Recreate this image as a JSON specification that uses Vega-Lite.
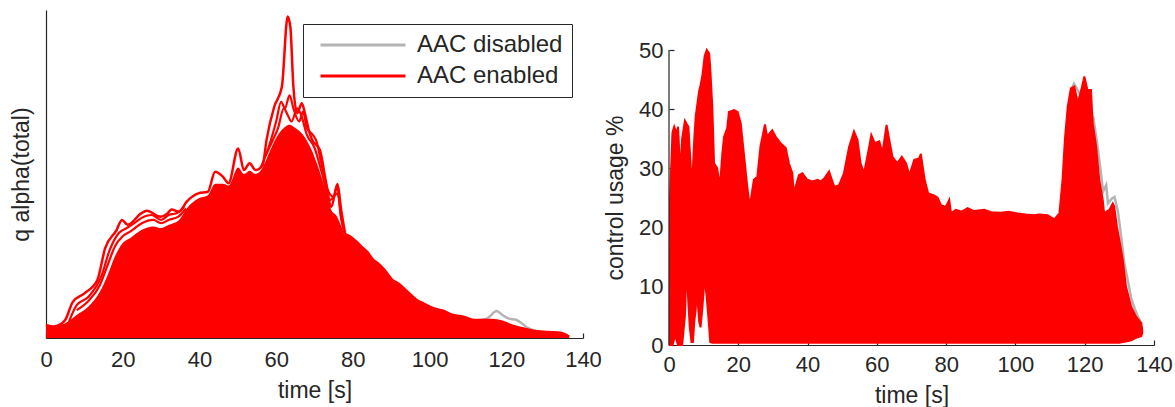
{
  "$schema": "https://vega.github.io/schema/vega-lite/v6.json",
  "padding": {"left": 10, "top": 10, "right": 0, "bottom": 0},
  "background": "white",
  "config": {
    "font": "Liberation Sans",
    "view": {"stroke": null},
    "axis": {"grid": false, "domainColor": "#262626", "domainWidth": 1.2, "tickColor": "#262626", "tickWidth": 1.2, "labelColor": "#262626", "titleColor": "#262626", "labelFontSize": 22, "titleFontSize": 23, "titleFontWeight": "normal", "labelFont": "Liberation Sans", "titleFont": "Liberation Sans"}
  },
  "datasets": {
    "leftEnabled": [
      {"t": 0, "v": 0.04, "run": "AAC enabled"}, {"t": 2, "v": 0.035, "run": "AAC enabled"}, {"t": 3.5, "v": 0.04, "run": "AAC enabled"}, {"t": 5, "v": 0.055, "run": "AAC enabled"}, {"t": 7, "v": 0.11, "run": "AAC enabled"}, {"t": 10, "v": 0.136, "run": "AAC enabled"}, {"t": 13.4, "v": 0.177, "run": "AAC enabled"}, {"t": 15.4, "v": 0.273, "run": "AAC enabled"}, {"t": 18.4, "v": 0.329, "run": "AAC enabled"}, {"t": 19.8, "v": 0.36, "run": "AAC enabled"}, {"t": 21.3, "v": 0.345, "run": "AAC enabled"}, {"t": 24.8, "v": 0.38, "run": "AAC enabled"}, {"t": 26.3, "v": 0.388, "run": "AAC enabled"}, {"t": 29.8, "v": 0.37, "run": "AAC enabled"}, {"t": 31.7, "v": 0.38, "run": "AAC enabled"}, {"t": 32.7, "v": 0.392, "run": "AAC enabled"}, {"t": 34.7, "v": 0.385, "run": "AAC enabled"}, {"t": 36.7, "v": 0.416, "run": "AAC enabled"}, {"t": 39.7, "v": 0.441, "run": "AAC enabled"}, {"t": 42.2, "v": 0.446, "run": "AAC enabled"}, {"t": 44.1, "v": 0.507, "run": "AAC enabled"}, {"t": 46.1, "v": 0.492, "run": "AAC enabled"}, {"t": 47.6, "v": 0.472, "run": "AAC enabled"}, {"t": 50.1, "v": 0.578, "run": "AAC enabled"}, {"t": 51.6, "v": 0.512, "run": "AAC enabled"}, {"t": 53.1, "v": 0.533, "run": "AAC enabled"}, {"t": 54.6, "v": 0.512, "run": "AAC enabled"}, {"t": 56.5, "v": 0.527, "run": "AAC enabled"}, {"t": 57.5, "v": 0.604, "run": "AAC enabled"}, {"t": 59.5, "v": 0.705, "run": "AAC enabled"}, {"t": 61.5, "v": 0.766, "run": "AAC enabled"}, {"t": 63, "v": 0.98, "run": "AAC enabled"}, {"t": 63.7, "v": 0.949, "run": "AAC enabled"}, {"t": 64.5, "v": 0.766, "run": "AAC enabled"}, {"t": 65.5, "v": 0.685, "run": "AAC enabled"}, {"t": 66.7, "v": 0.716, "run": "AAC enabled"}, {"t": 67.5, "v": 0.685, "run": "AAC enabled"}, {"t": 68.5, "v": 0.634, "run": "AAC enabled"}, {"t": 69.4, "v": 0.604, "run": "AAC enabled"}, {"t": 71.4, "v": 0.573, "run": "AAC enabled"}, {"t": 72.9, "v": 0.482, "run": "AAC enabled"}, {"t": 74.4, "v": 0.4, "run": "AAC enabled"}, {"t": 75.9, "v": 0.466, "run": "AAC enabled"}, {"t": 76.9, "v": 0.37, "run": "AAC enabled"}, {"t": 77.9, "v": 0.319, "run": "AAC enabled"}, {"t": 79.2, "v": 0.31, "run": "AAC enabled"}, {"t": 80.4, "v": 0.299, "run": "AAC enabled"}, {"t": 81.3, "v": 0.29, "run": "AAC enabled"}, {"t": 82.3, "v": 0.278, "run": "AAC enabled"}, {"t": 83.8, "v": 0.262, "run": "AAC enabled"}, {"t": 85.3, "v": 0.238, "run": "AAC enabled"}, {"t": 86.5, "v": 0.228, "run": "AAC enabled"}, {"t": 88.3, "v": 0.207, "run": "AAC enabled"}, {"t": 90.3, "v": 0.177, "run": "AAC enabled"}, {"t": 92, "v": 0.165, "run": "AAC enabled"}, {"t": 93.8, "v": 0.146, "run": "AAC enabled"}, {"t": 96.7, "v": 0.116, "run": "AAC enabled"}, {"t": 98.5, "v": 0.105, "run": "AAC enabled"}, {"t": 101.2, "v": 0.09, "run": "AAC enabled"}, {"t": 103.5, "v": 0.083, "run": "AAC enabled"}, {"t": 106.2, "v": 0.07, "run": "AAC enabled"}, {"t": 108.8, "v": 0.065, "run": "AAC enabled"}, {"t": 111.6, "v": 0.055, "run": "AAC enabled"}, {"t": 116.1, "v": 0.055, "run": "AAC enabled"}, {"t": 119, "v": 0.05, "run": "AAC enabled"}, {"t": 121, "v": 0.04, "run": "AAC enabled"}, {"t": 124, "v": 0.03, "run": "AAC enabled"}, {"t": 127, "v": 0.022, "run": "AAC enabled"}, {"t": 131, "v": 0.018, "run": "AAC enabled"}, {"t": 134.4, "v": 0.015, "run": "AAC enabled"}, {"t": 136.4, "v": 0.004, "run": "AAC enabled"}
    ],
    "leftStrand": [
      {"t": 6, "v": 0.05, "s": "s2a"}, {"t": 8, "v": 0.1, "s": "s2a"}, {"t": 11, "v": 0.125, "s": "s2a"}, {"t": 14.5, "v": 0.19, "s": "s2a"}, {"t": 16.5, "v": 0.265, "s": "s2a"}, {"t": 19, "v": 0.32, "s": "s2a"}, {"t": 21, "v": 0.335, "s": "s2a"}, {"t": 23, "v": 0.35, "s": "s2a"}, {"t": 25.5, "v": 0.37, "s": "s2a"}, {"t": 27.5, "v": 0.375, "s": "s2a"}, {"t": 30, "v": 0.36, "s": "s2a"}, {"t": 32, "v": 0.375, "s": "s2a"}, {"t": 34, "v": 0.38, "s": "s2a"}, {"t": 36, "v": 0.4, "s": "s2a"},
      {"t": 8, "v": 0.085, "s": "s3a"}, {"t": 11, "v": 0.112, "s": "s3a"}, {"t": 14, "v": 0.16, "s": "s3a"}, {"t": 16, "v": 0.22, "s": "s3a"}, {"t": 18, "v": 0.28, "s": "s3a"}, {"t": 20, "v": 0.31, "s": "s3a"}, {"t": 22, "v": 0.325, "s": "s3a"}, {"t": 25, "v": 0.35, "s": "s3a"}, {"t": 28, "v": 0.36, "s": "s3a"}, {"t": 30, "v": 0.35, "s": "s3a"}, {"t": 32, "v": 0.36, "s": "s3a"}, {"t": 34.5, "v": 0.37, "s": "s3a"}, {"t": 36.5, "v": 0.395, "s": "s3a"},
      {"t": 56, "v": 0.52, "s": "s2b"}, {"t": 58, "v": 0.58, "s": "s2b"}, {"t": 60, "v": 0.66, "s": "s2b"}, {"t": 61.3, "v": 0.72, "s": "s2b"}, {"t": 62.3, "v": 0.7, "s": "s2b"}, {"t": 63.5, "v": 0.74, "s": "s2b"}, {"t": 64.5, "v": 0.7, "s": "s2b"}, {"t": 66, "v": 0.66, "s": "s2b"}, {"t": 67, "v": 0.69, "s": "s2b"}, {"t": 68, "v": 0.64, "s": "s2b"}, {"t": 69.5, "v": 0.62, "s": "s2b"}, {"t": 70.5, "v": 0.6, "s": "s2b"}, {"t": 72, "v": 0.52, "s": "s2b"}, {"t": 73.5, "v": 0.45, "s": "s2b"}, {"t": 75, "v": 0.43, "s": "s2b"}, {"t": 76, "v": 0.47, "s": "s2b"}, {"t": 77, "v": 0.39, "s": "s2b"}, {"t": 78, "v": 0.32, "s": "s2b"},
      {"t": 57, "v": 0.55, "s": "s3b"}, {"t": 59, "v": 0.6, "s": "s3b"}, {"t": 60.5, "v": 0.64, "s": "s3b"}, {"t": 62, "v": 0.7, "s": "s3b"}, {"t": 63, "v": 0.68, "s": "s3b"}, {"t": 64, "v": 0.66, "s": "s3b"}, {"t": 65.5, "v": 0.7, "s": "s3b"}, {"t": 66.5, "v": 0.68, "s": "s3b"}, {"t": 68, "v": 0.62, "s": "s3b"}, {"t": 70, "v": 0.58, "s": "s3b"}, {"t": 72, "v": 0.5, "s": "s3b"}, {"t": 74, "v": 0.42, "s": "s3b"}, {"t": 75.9, "v": 0.44, "s": "s3b"}, {"t": 77, "v": 0.36, "s": "s3b"}
    ],
    "leftBulk": [
      {"t": 0, "v": 0.04}, {"t": 2, "v": 0.035}, {"t": 3.5, "v": 0.04}, {"t": 5, "v": 0.045}, {"t": 8, "v": 0.07}, {"t": 11, "v": 0.095}, {"t": 14, "v": 0.14}, {"t": 16, "v": 0.19}, {"t": 18, "v": 0.25}, {"t": 20, "v": 0.29}, {"t": 22, "v": 0.305}, {"t": 25, "v": 0.33}, {"t": 28, "v": 0.34}, {"t": 30, "v": 0.335}, {"t": 32, "v": 0.345}, {"t": 34.7, "v": 0.36}, {"t": 36.7, "v": 0.395}, {"t": 39.7, "v": 0.425}, {"t": 42.2, "v": 0.435}, {"t": 44.1, "v": 0.47}, {"t": 46.1, "v": 0.47}, {"t": 47.6, "v": 0.465}, {"t": 50.1, "v": 0.52}, {"t": 51.6, "v": 0.5}, {"t": 53.1, "v": 0.51}, {"t": 54.6, "v": 0.5}, {"t": 56.5, "v": 0.52}, {"t": 58, "v": 0.56}, {"t": 60, "v": 0.61}, {"t": 62, "v": 0.64}, {"t": 63.5, "v": 0.65}, {"t": 65, "v": 0.64}, {"t": 67, "v": 0.62}, {"t": 69, "v": 0.58}, {"t": 71, "v": 0.52}, {"t": 72.9, "v": 0.45}, {"t": 74.4, "v": 0.39}, {"t": 75.9, "v": 0.37}, {"t": 77, "v": 0.34}, {"t": 77.9, "v": 0.315}, {"t": 79.2, "v": 0.31}, {"t": 80.4, "v": 0.299}, {"t": 81.3, "v": 0.29}, {"t": 82.3, "v": 0.278}, {"t": 83.8, "v": 0.262}, {"t": 85.3, "v": 0.238}, {"t": 86.5, "v": 0.228}, {"t": 88.3, "v": 0.207}, {"t": 90.3, "v": 0.177}, {"t": 92, "v": 0.165}, {"t": 93.8, "v": 0.146}, {"t": 96.7, "v": 0.116}, {"t": 98.5, "v": 0.105}, {"t": 101.2, "v": 0.09}, {"t": 103.5, "v": 0.083}, {"t": 106.2, "v": 0.07}, {"t": 108.8, "v": 0.065}, {"t": 111.6, "v": 0.055}, {"t": 116.1, "v": 0.055}, {"t": 119, "v": 0.05}, {"t": 121, "v": 0.04}, {"t": 124, "v": 0.03}, {"t": 127, "v": 0.022}, {"t": 131, "v": 0.018}, {"t": 134.4, "v": 0.015}, {"t": 136.4, "v": 0.004}
    ],
    "leftDisabled": [
      {"t": 110, "v": 0.05, "run": "AAC disabled"}, {"t": 115, "v": 0.06, "run": "AAC disabled"}, {"t": 117.5, "v": 0.082, "run": "AAC disabled"}, {"t": 119, "v": 0.07, "run": "AAC disabled"}, {"t": 120.5, "v": 0.06, "run": "AAC disabled"}, {"t": 122.7, "v": 0.055, "run": "AAC disabled"}, {"t": 124, "v": 0.045, "run": "AAC disabled"}, {"t": 125.7, "v": 0.03, "run": "AAC disabled"}, {"t": 128, "v": 0.02, "run": "AAC disabled"}
    ],
    "rightEnabled": [
      {"t": 0.2, "hi": 0, "lo": 0}, {"t": 0.3, "hi": 25, "lo": 0}, {"t": 1.0, "hi": 36, "lo": 0}, {"t": 1.5, "hi": 37, "lo": 1}, {"t": 1.8, "hi": 36.5, "lo": 2.5}, {"t": 2.1, "hi": 35.5, "lo": 1}, {"t": 2.6, "hi": 37, "lo": 0}, {"t": 3.3, "hi": 29, "lo": 0}, {"t": 3.8, "hi": 35, "lo": 0}, {"t": 4.6, "hi": 38, "lo": 5}, {"t": 5.06, "hi": 37.5, "lo": 13.6}, {"t": 5.6, "hi": 37, "lo": 7}, {"t": 6.0, "hi": 33, "lo": 3}, {"t": 6.5, "hi": 28, "lo": 0.5}, {"t": 6.7, "hi": 25, "lo": 0.5}, {"t": 6.9, "hi": 30, "lo": 0.5}, {"t": 7.3, "hi": 35, "lo": 4}, {"t": 7.7, "hi": 38.7, "lo": 6}, {"t": 8.0, "hi": 40, "lo": 9.6}, {"t": 8.7, "hi": 43, "lo": 4}, {"t": 9.1, "hi": 44, "lo": 3}, {"t": 9.6, "hi": 45.5, "lo": 6}, {"t": 10.3, "hi": 49, "lo": 11.6}, {"t": 10.9, "hi": 50, "lo": 8}, {"t": 11.6, "hi": 49.4, "lo": 3}, {"t": 11.9, "hi": 47, "lo": 0.5}, {"t": 12.5, "hi": 40.4, "lo": 0.4}, {"t": 13, "hi": 30.8, "lo": 0.4}, {"t": 13.9, "hi": 30, "lo": 0.4}, {"t": 14.7, "hi": 26.8, "lo": 0.4}, {"t": 15.4, "hi": 32.5, "lo": 0.4}, {"t": 15.9, "hi": 35.3, "lo": 0.4}, {"t": 16.8, "hi": 36.7, "lo": 0.4}, {"t": 17.3, "hi": 39.5, "lo": 0.4}, {"t": 18.8, "hi": 39.8, "lo": 0.4}, {"t": 19.8, "hi": 39.5, "lo": 0.4}, {"t": 20.7, "hi": 37.6, "lo": 0.4}, {"t": 21.6, "hi": 32.5, "lo": 0.4}, {"t": 22.6, "hi": 26.8, "lo": 0.4}, {"t": 23.3, "hi": 23.4, "lo": 0.4}, {"t": 24.5, "hi": 28, "lo": 0.4}, {"t": 25.5, "hi": 28.5, "lo": 0.4}, {"t": 26.4, "hi": 33.6, "lo": 0.4}, {"t": 27.7, "hi": 37.4, "lo": 0.4}, {"t": 28.3, "hi": 35.3, "lo": 0.4}, {"t": 29.8, "hi": 36.4, "lo": 0.4}, {"t": 30.8, "hi": 35.3, "lo": 0.4}, {"t": 32.2, "hi": 34.2, "lo": 0.4}, {"t": 33.7, "hi": 33.4, "lo": 0.4}, {"t": 34.6, "hi": 30.8, "lo": 0.4}, {"t": 35.6, "hi": 29.1, "lo": 0.4}, {"t": 36.0, "hi": 25.7, "lo": 0.4}, {"t": 37.5, "hi": 28.8, "lo": 0.4}, {"t": 38.5, "hi": 29.1, "lo": 0.4}, {"t": 39.9, "hi": 28, "lo": 0.4}, {"t": 41.4, "hi": 27.7, "lo": 0.4}, {"t": 42.9, "hi": 28, "lo": 0.4}, {"t": 43.8, "hi": 27.7, "lo": 0.4}, {"t": 44.8, "hi": 28.2, "lo": 0.4}, {"t": 46.2, "hi": 29.4, "lo": 0.4}, {"t": 47.7, "hi": 26.8, "lo": 0.4}, {"t": 49.1, "hi": 27.1, "lo": 0.4}, {"t": 50.5, "hi": 29.1, "lo": 0.4}, {"t": 52, "hi": 33.6, "lo": 0.4}, {"t": 53.4, "hi": 36.2, "lo": 0.4}, {"t": 54.4, "hi": 34.8, "lo": 0.4}, {"t": 55.3, "hi": 30.8, "lo": 0.4}, {"t": 56.3, "hi": 29.1, "lo": 0.4}, {"t": 57.8, "hi": 33.6, "lo": 0.4}, {"t": 58.4, "hi": 35.6, "lo": 0.4}, {"t": 59.4, "hi": 34.2, "lo": 0.4}, {"t": 60.7, "hi": 34.5, "lo": 0.4}, {"t": 61.6, "hi": 32.5, "lo": 0.4}, {"t": 62.8, "hi": 37.3, "lo": 0.4}, {"t": 63.6, "hi": 34.7, "lo": 0.4}, {"t": 64.5, "hi": 31.9, "lo": 0.4}, {"t": 65.9, "hi": 30.8, "lo": 0.4}, {"t": 67.2, "hi": 31.9, "lo": 0.4}, {"t": 68.4, "hi": 30.8, "lo": 0.4}, {"t": 69.4, "hi": 28.8, "lo": 0.4}, {"t": 70.8, "hi": 31.4, "lo": 0.4}, {"t": 72.2, "hi": 31.6, "lo": 0.4}, {"t": 72.7, "hi": 32.4, "lo": 0.4}, {"t": 73.8, "hi": 28, "lo": 0.4}, {"t": 74.8, "hi": 25.7, "lo": 0.4}, {"t": 76.3, "hi": 25.4, "lo": 0.4}, {"t": 77.5, "hi": 25, "lo": 0.4}, {"t": 78.5, "hi": 23.7, "lo": 0.4}, {"t": 79.9, "hi": 23.4, "lo": 0.4}, {"t": 80.9, "hi": 24.6, "lo": 0.4}, {"t": 81.4, "hi": 22.3, "lo": 0.4}, {"t": 82.8, "hi": 22.9, "lo": 0.4}, {"t": 84.5, "hi": 22.6, "lo": 0.4}, {"t": 86.2, "hi": 23.2, "lo": 0.4}, {"t": 88, "hi": 22.7, "lo": 0.4}, {"t": 91, "hi": 22.9, "lo": 0.4}, {"t": 93, "hi": 22.5, "lo": 0.4}, {"t": 95.8, "hi": 22.4, "lo": 0.4}, {"t": 98, "hi": 22.6, "lo": 0.4}, {"t": 100.6, "hi": 22.3, "lo": 0.4}, {"t": 103, "hi": 22.1, "lo": 0.4}, {"t": 105.4, "hi": 22.0, "lo": 0.4}, {"t": 107, "hi": 22.1, "lo": 0.4}, {"t": 109.3, "hi": 22.0, "lo": 0.4}, {"t": 111.2, "hi": 21.3, "lo": 0.4}, {"t": 112.7, "hi": 22.3, "lo": 0.4}, {"t": 113.6, "hi": 28, "lo": 0.4}, {"t": 114.3, "hi": 35, "lo": 0.4}, {"t": 115.1, "hi": 40.4, "lo": 0.4}, {"t": 116, "hi": 43.5, "lo": 0.4}, {"t": 117, "hi": 43.8, "lo": 0.4}, {"t": 118, "hi": 41, "lo": 0.4}, {"t": 119, "hi": 43.2, "lo": 0.4}, {"t": 119.9, "hi": 45.5, "lo": 0.4}, {"t": 120.8, "hi": 43.2, "lo": 0.4}, {"t": 121.8, "hi": 43.2, "lo": 0.4}, {"t": 122.3, "hi": 37.6, "lo": 0.4}, {"t": 123.3, "hi": 33.6, "lo": 0.4}, {"t": 124.2, "hi": 28, "lo": 0.4}, {"t": 125.2, "hi": 24.6, "lo": 0.4}, {"t": 125.6, "hi": 22.3, "lo": 0.4}, {"t": 127.1, "hi": 22.9, "lo": 0.4}, {"t": 128.1, "hi": 24, "lo": 0.4}, {"t": 128.5, "hi": 23.5, "lo": 0.4}, {"t": 129.3, "hi": 20, "lo": 0.4}, {"t": 130, "hi": 17.8, "lo": 0.4}, {"t": 131, "hi": 14.4, "lo": 0.5}, {"t": 131.9, "hi": 9.9, "lo": 0.6}, {"t": 133.4, "hi": 6.5, "lo": 0.8}, {"t": 134.8, "hi": 4.8, "lo": 1.2}, {"t": 136.3, "hi": 3.7, "lo": 1.5}, {"t": 136.6, "hi": 2.6, "lo": 2.0}
    ],
    "rightDisabled": [
      {"t": 116.3, "v": 43.5}, {"t": 116.9, "v": 44.3}, {"t": 117.6, "v": 43.6}, {"t": 122.5, "v": 38.5}, {"t": 123.5, "v": 34.5}, {"t": 124.5, "v": 30}, {"t": 125.3, "v": 26}, {"t": 126.2, "v": 27.1}, {"t": 126.7, "v": 24}, {"t": 127.8, "v": 24.8}, {"t": 128.6, "v": 25.1}, {"t": 129.6, "v": 22.6}, {"t": 130.6, "v": 18}, {"t": 131.4, "v": 14}, {"t": 132.4, "v": 11}, {"t": 133.4, "v": 8}, {"t": 134.5, "v": 6}, {"t": 135.6, "v": 4.5}, {"t": 136.5, "v": 3.5}
    ],
    "axisLine": [{"x": 0, "lo": 0, "hi": 50}]
  },
  "hconcat": [
    {
      "width": 537,
      "height": 328,
      "encoding": {
        "x": {"field": "t", "type": "quantitative", "scale": {"domain": [0, 140], "nice": false, "zero": false}, "axis": {"values": [0, 20, 40, 60, 80, 100, 120, 140], "title": "time [s]", "tickSize": -5, "labelPadding": 16, "titlePadding": 9, "labelFlush": false}}
      },
      "layer": [
        {
          "data": {"name": "leftDisabled"},
          "mark": {"type": "line", "strokeWidth": 2.5, "interpolate": "monotone"},
          "encoding": {
            "y": {"field": "v", "type": "quantitative", "scale": {"domain": [0, 1], "nice": false}, "axis": {"title": "q alpha(total)", "labels": false, "ticks": false, "titlePadding": 13}},
            "color": {"field": "run", "type": "nominal", "scale": {"domain": ["AAC disabled", "AAC enabled"], "range": ["#b3b3b3", "#ff0000"]},
              "legend": {"title": null, "orient": "none", "legendX": 257, "legendY": 14, "symbolType": "stroke", "symbolSize": 7225, "symbolStrokeWidth": 3, "symbolOffset": 7, "labelOffset": 10, "clipHeight": 24, "rowPadding": 7, "padding": 9, "labelFontSize": 24, "labelFont": "Liberation Sans", "labelColor": "#262626", "strokeColor": "#262626", "fillColor": "white", "labelLimit": 0}}
          }
        },
        {
          "data": {"name": "leftBulk"},
          "mark": {"type": "area", "color": "#ff0000", "interpolate": "monotone"},
          "encoding": {"y": {"field": "v", "type": "quantitative"}}
        },
        {
          "data": {"name": "leftStrand"},
          "mark": {"type": "line", "strokeWidth": 2.2, "color": "#ff0000", "interpolate": "monotone"},
          "encoding": {"y": {"field": "v", "type": "quantitative"}, "detail": {"field": "s"}}
        },
        {
          "data": {"name": "leftEnabled"},
          "mark": {"type": "line", "strokeWidth": 2.5, "interpolate": "monotone"},
          "encoding": {
            "y": {"field": "v", "type": "quantitative"},
            "color": {"field": "run", "type": "nominal"}
          }
        }
      ]
    },
    {
      "width": 485,
      "height": 335,
      "encoding": {
        "x": {"field": "t", "type": "quantitative", "scale": {"domain": [0, 140], "nice": false, "zero": false}, "axis": {"values": [0, 20, 40, 60, 80, 100, 120, 140], "title": "time [s]", "tickSize": -5, "labelPadding": 14, "titlePadding": 9, "labelFlush": false}}
      },
      "layer": [
        {
          "data": {"name": "rightDisabled"},
          "mark": {"type": "line", "strokeWidth": 2.5, "color": "#b3b3b3"},
          "encoding": {
            "y": {"field": "v", "type": "quantitative", "scale": {"domain": [0, 56.78], "nice": false}, "axis": {"title": "control usage %", "values": [0, 10, 20, 30, 40, 50], "domain": false, "tickSize": -5, "labelPadding": 11, "titleX": -53.5, "titleY": 187.5, "titleAngle": -90, "titleAlign": "center", "titleBaseline": "middle"}}
          }
        },
        {
          "data": {"name": "rightEnabled"},
          "mark": {"type": "area", "color": "#ff0000", "stroke": "#ff0000", "strokeWidth": 2},
          "encoding": {
            "y": {"field": "hi", "type": "quantitative"},
            "y2": {"field": "lo"}
          }
        },
        {
          "data": {"name": "axisLine"},
          "mark": {"type": "rule", "color": "#262626", "strokeWidth": 1.2},
          "encoding": {
            "x": {"field": "x", "type": "quantitative"},
            "y": {"field": "lo", "type": "quantitative"},
            "y2": {"field": "hi"}
          }
        }
      ]
    }
  ],
  "spacing": 2
}
